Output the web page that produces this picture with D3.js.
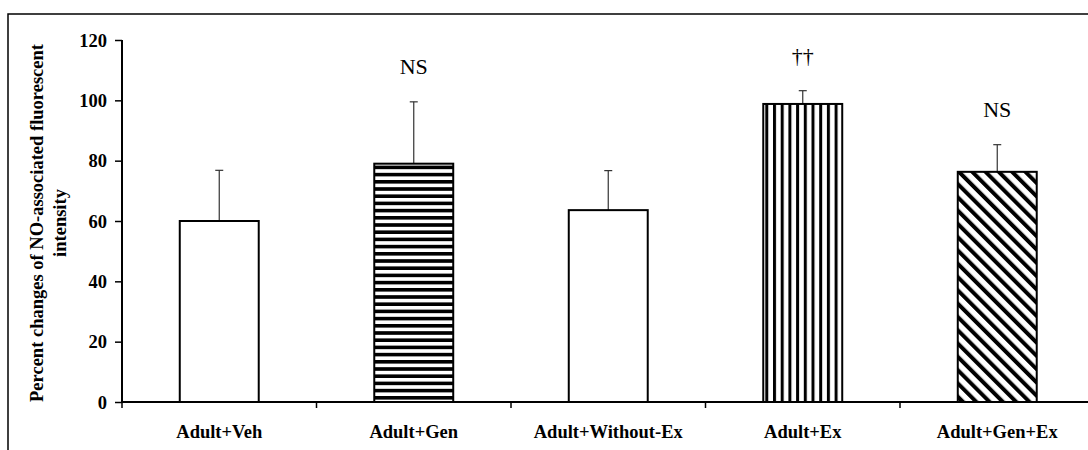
<!DOCTYPE html>
<html><head><meta charset="utf-8">
<script src="https://cdn.jsdelivr.net/npm/d3@7"></script>
<style>
html,body{margin:0;padding:0;background:#fff;}
svg{display:block;}
text{font-family:"Liberation Serif","Times New Roman",serif;fill:#000;}
</style></head>
<body>
<svg id="chart" width="1088" height="450"></svg>
<script>
const categories = ["Adult+Veh","Adult+Gen","Adult+Without-Ex","Adult+Ex","Adult+Gen+Ex"];
const values = [60, 79, 63.6, 98.8, 76.3];
const errors = [16.8, 20.5, 13.1, 4.4, 9.0];
const annotations = ["", "NS", "", "\u2020\u2020", "NS"];
const fills = ["white","hstripe","white","vstripe","diag"];
const yTicks = [0,20,40,60,80,100,120];
const yTitle = ["Percent changes of NO-associated fluorescent","intensity"];

const svg = d3.select("#chart");
const x0 = 122, x1 = 1094.5, yTop = 40, yBot = 402;
const fs = 18.5;

// border
svg.append("rect").attr("x",8).attr("y",14).attr("width",1100).attr("height",460)
  .attr("fill","none").attr("stroke","#000").attr("stroke-width",1.5);

const defs = svg.append("defs");
const ph = defs.append("pattern").attr("id","hstripe").attr("patternUnits","userSpaceOnUse")
  .attr("width",8).attr("height",7.2);
ph.append("rect").attr("width",8).attr("height",7.2).attr("fill","#fff");
ph.append("rect").attr("y",0).attr("width",8).attr("height",3.6).attr("fill","#000");
const pv = defs.append("pattern").attr("id","vstripe").attr("patternUnits","userSpaceOnUse")
  .attr("width",7.7).attr("height",8).attr("x",3);
pv.append("rect").attr("width",7.7).attr("height",8).attr("fill","#fff");
pv.append("rect").attr("x",0).attr("width",3).attr("height",8).attr("fill","#000");
const pd = defs.append("pattern").attr("id","diag").attr("patternUnits","userSpaceOnUse")
  .attr("width",9.4).attr("height",10).attr("patternTransform","rotate(-45)");
pd.append("rect").attr("width",9.4).attr("height",10).attr("fill","#fff");
pd.append("rect").attr("x",0).attr("width",4).attr("height",10).attr("fill","#000");

const x = d3.scaleBand().domain(categories).range([x0,x1]).paddingInner(0.594).paddingOuter(0.297);
const y = d3.scaleLinear().domain([0,120]).range([yBot,yTop]);

const data = categories.map((c,i)=>({c, v:values[i], e:errors[i], a:annotations[i], f:fills[i]}));

// error bars
const eb = svg.append("g");
data.forEach(d=>{
  const cx = x(d.c)+x.bandwidth()/2;
  eb.append("line").attr("x1",cx).attr("x2",cx).attr("y1",y(d.v)).attr("y2",y(d.v+d.e))
    .attr("stroke","#333").attr("stroke-width",1.2);
  eb.append("line").attr("x1",cx-4).attr("x2",cx+4).attr("y1",y(d.v+d.e)).attr("y2",y(d.v+d.e))
    .attr("stroke","#333").attr("stroke-width",1.2);
});

// bars
svg.append("g").selectAll("rect").data(data).join("rect")
  .attr("x",d=>x(d.c)).attr("y",d=>y(d.v)).attr("width",x.bandwidth())
  .attr("height",d=>y(0)-y(d.v))
  .attr("fill",d=>d.f==="white"?"#fff":`url(#${d.f})`)
  .attr("stroke","#000").attr("stroke-width",2);

// annotations
svg.append("g").selectAll("text").data(data.filter(d=>d.a)).join("text")
  .attr("x",d=>x(d.c)+x.bandwidth()/2).attr("y",d=>y(d.v+d.e)-28)
  .attr("text-anchor","middle").attr("font-size",22).text(d=>d.a);

// y axis
const yAxis = svg.append("g").attr("transform",`translate(${x0},0)`)
  .call(d3.axisLeft(y).tickValues(yTicks).tickSize(7).tickPadding(8));
yAxis.select(".domain").attr("d",`M0,${yTop}V${yBot}`).attr("stroke","#000").attr("stroke-width",2);
yAxis.selectAll(".tick line").attr("stroke","#000").attr("stroke-width",1.5);
yAxis.selectAll(".tick text").attr("font-family","Liberation Serif").attr("font-weight","bold")
  .attr("font-size",fs).attr("fill","#000").attr("dy","0.34em");

// x axis
const xAxis = svg.append("g").attr("transform",`translate(0,${yBot})`)
  .call(d3.axisBottom(x).tickSize(0).tickPadding(23));
xAxis.select(".domain").attr("d",`M${x0},0H${x1+20}`).attr("stroke","#000").attr("stroke-width",2);
xAxis.selectAll(".tick text").attr("font-family","Liberation Serif").attr("font-weight","bold")
  .attr("font-size",fs).attr("fill","#000").attr("dy","0.71em");
const bounds = categories.map(c=>x(c)-x.step()*x.paddingInner()/2).concat([x1]);
xAxis.selectAll(".sep").data(bounds).join("line").attr("class","sep")
  .attr("x1",d=>d).attr("x2",d=>d).attr("y1",0).attr("y2",6).attr("stroke","#000").attr("stroke-width",1.5);

// y title
const yt = svg.append("text").attr("transform","translate(43,223) rotate(-90)")
  .attr("text-anchor","middle").attr("font-weight","bold").attr("font-size",fs);
yt.append("tspan").attr("x",0).attr("dy",0).text(yTitle[0]);
yt.append("tspan").attr("x",0).attr("dy",23).text(yTitle[1]);
</script>
</body></html>
